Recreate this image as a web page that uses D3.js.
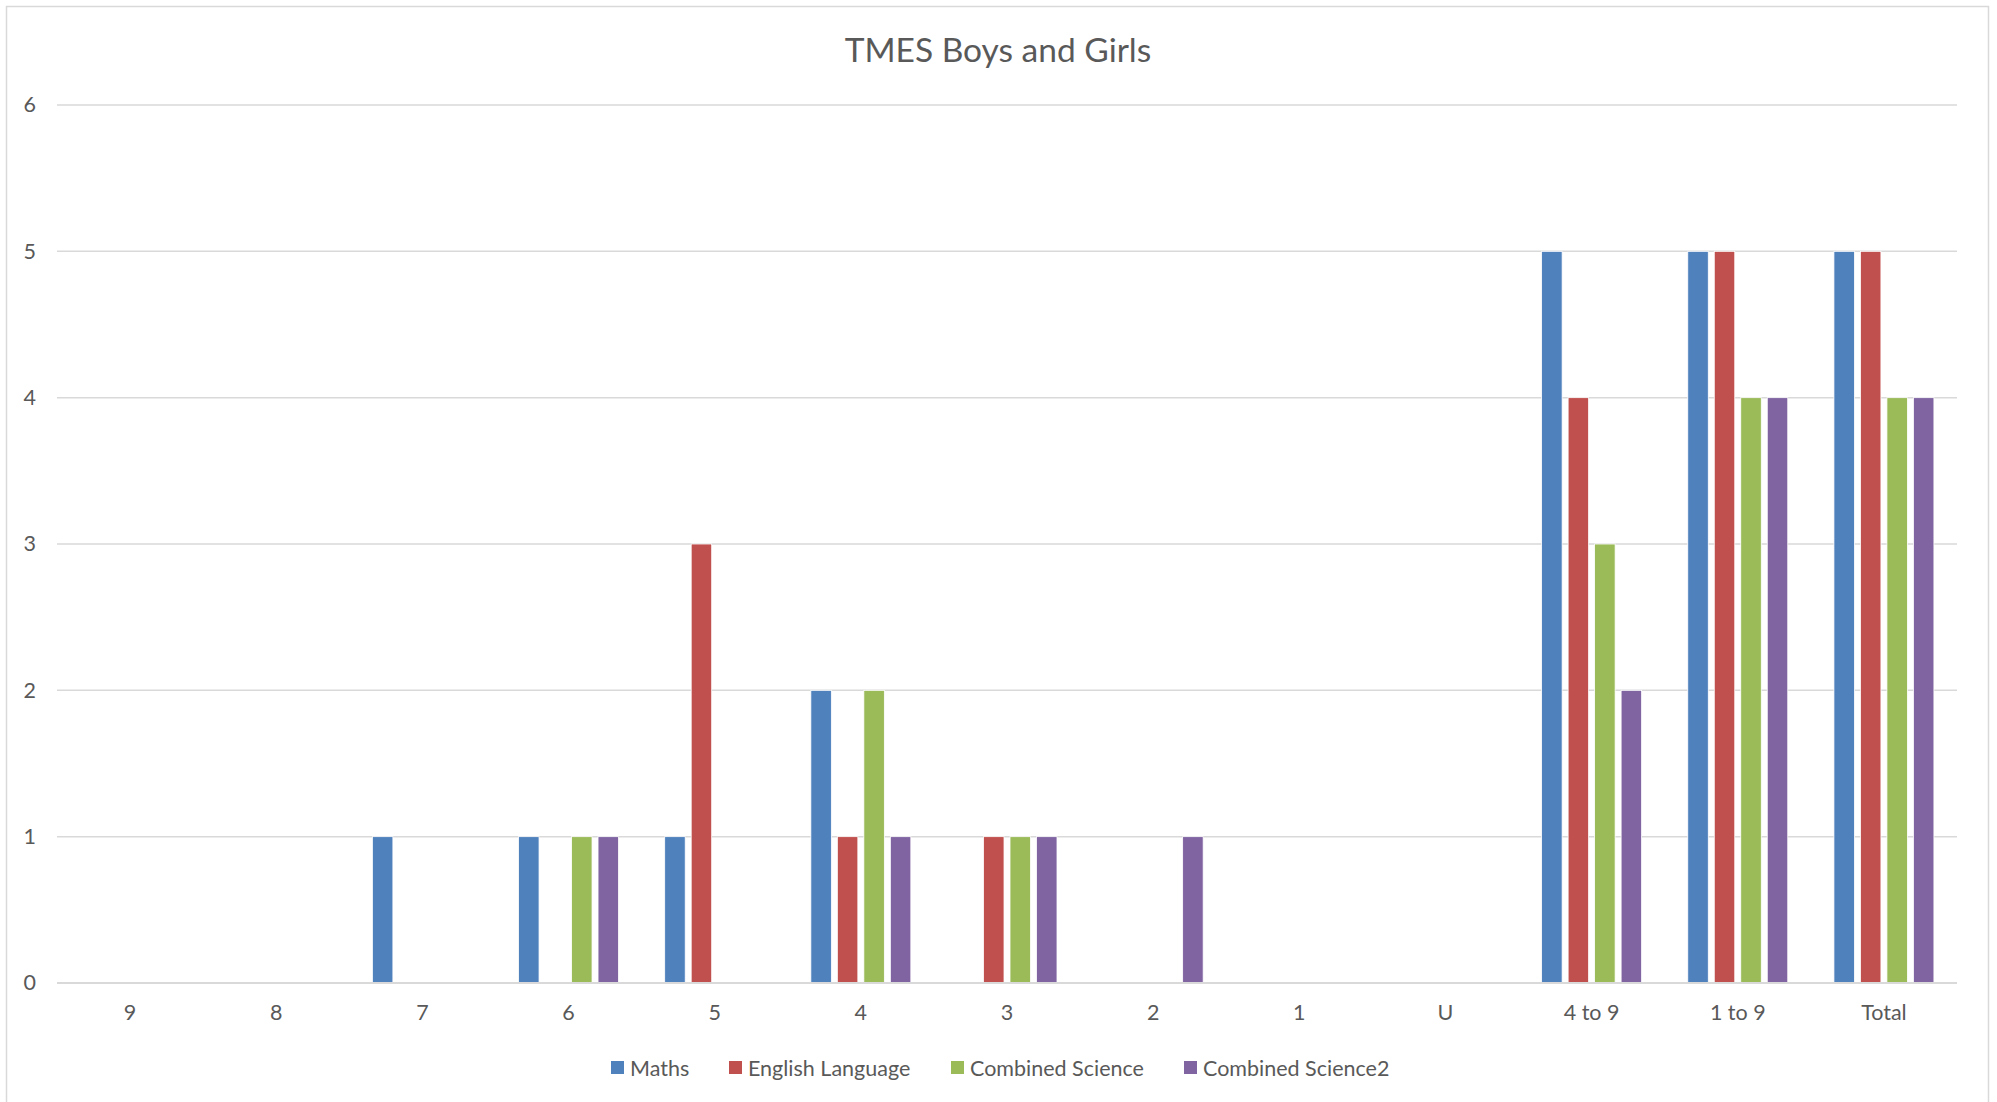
<!DOCTYPE html>
<html>
<head>
<meta charset="utf-8">
<script src="https://cdn.jsdelivr.net/npm/d3@7"></script>
<style>
  html, body { margin: 0; padding: 0; background: #fff; }
  svg { display: block; }
  text { font-family: Lato, "Open Sans", sans-serif; fill: #595959; }
</style>
</head>
<body>
<svg id="chart" width="1997" height="1102"></svg>
<script>
const title = "TMES Boys and Girls";
const categories = ["9", "8", "7", "6", "5", "4", "3", "2", "1", "U", "4 to 9", "1 to 9", "Total"];
const seriesNames = ["Maths", "English Language", "Combined Science", "Combined Science2"];
const maths            = [0, 0, 1, 1, 1, 2, 0, 0, 0, 0, 5, 5, 5];
const englishLanguage  = [0, 0, 0, 0, 3, 1, 1, 0, 0, 0, 4, 5, 5];
const combinedScience  = [0, 0, 0, 1, 0, 2, 1, 0, 0, 0, 3, 4, 4];
const combinedScience2 = [0, 0, 0, 1, 0, 1, 1, 1, 0, 0, 2, 4, 4];
const yTicks = [0, 1, 2, 3, 4, 5, 6];
const colors = ["#4F81BD", "#C0504D", "#9BBB59", "#8064A2"];

const seriesValues = [maths, englishLanguage, combinedScience, combinedScience2];

const svg = d3.select("#chart");
const plot = { left: 57, right: 1957, top: 105, bottom: 983 };
const fontSize = 21.5;

// chart border
svg.append("rect")
  .attr("x", 6.5).attr("y", 6.5)
  .attr("width", 1982).attr("height", 1110)
  .attr("fill", "#fff").attr("stroke", "#D9D9D9").attr("stroke-width", 1.5);

svg.append("text")
  .attr("x", 998).attr("y", 62)
  .attr("text-anchor", "middle")
  .attr("font-size", 33.5)
  .text(title);

const x0 = d3.scaleBand().domain(categories).range([plot.left, plot.right]).paddingInner(0).paddingOuter(0);
const groupWidth = 100;
const x1 = d3.scaleBand().domain(seriesNames).range([-groupWidth / 2, groupWidth / 2]).paddingInner(0.226);
const y = d3.scaleLinear().domain([0, 6]).range([plot.bottom, plot.top]);

// gridlines
svg.append("g")
  .selectAll("line")
  .data(yTicks)
  .join("line")
  .attr("x1", plot.left).attr("x2", plot.right)
  .attr("y1", d => y(d)).attr("y2", d => y(d))
  .attr("stroke", "#D9D9D9").attr("stroke-width", 1.5);

// y labels
const yAxis = d3.axisLeft(y).tickValues(yTicks).tickSize(0).tickPadding(0).tickFormat(d3.format("d"));
const yg = svg.append("g").attr("transform", `translate(${36},0)`).call(yAxis);
yg.select(".domain").remove();
yg.selectAll("text").attr("font-size", fontSize).attr("font-family", "Lato, 'Open Sans', sans-serif").attr("fill", "#595959");

// bars
const rows = [];
categories.forEach((c, i) => {
  seriesNames.forEach((s, j) => {
    rows.push({ cat: c, series: s, value: seriesValues[j][i], color: colors[j] });
  });
});
svg.append("g")
  .selectAll("rect")
  .data(rows.filter(d => d.value > 0))
  .join("rect")
  .attr("x", d => x0(d.cat) + x0.bandwidth() / 2 + x1(d.series))
  .attr("width", x1.bandwidth())
  .attr("y", d => y(d.value))
  .attr("height", d => y(0) - y(d.value))
  .attr("fill", d => d.color)
  .attr("stroke", "#fff").attr("stroke-width", 0.8);

// x axis baseline
svg.append("line")
  .attr("x1", plot.left).attr("x2", plot.right)
  .attr("y1", y(0)).attr("y2", y(0))
  .attr("stroke", "#D9D9D9").attr("stroke-width", 1.8);

// x labels
const xAxis = d3.axisBottom(x0).tickSize(0).tickPadding(0);
const xg = svg.append("g").attr("transform", `translate(0,${plot.bottom + 37})`).call(xAxis);
xg.select(".domain").remove();
xg.selectAll("text").attr("font-size", fontSize).attr("font-family", "Lato, 'Open Sans', sans-serif").attr("fill", "#595959").attr("dy", 0);

// legend
const legendX = [611, 729, 951, 1184];
const legend = svg.append("g").selectAll("g")
  .data(seriesNames)
  .join("g")
  .attr("transform", (d, i) => `translate(${legendX[i]},1068)`);
legend.append("rect")
  .attr("x", 0).attr("y", -7).attr("width", 13).attr("height", 13)
  .attr("fill", (d, i) => colors[i]);
legend.append("text")
  .attr("x", 19).attr("y", 7.5)
  .attr("font-size", fontSize)
  .text(d => d);
</script>
</body>
</html>
